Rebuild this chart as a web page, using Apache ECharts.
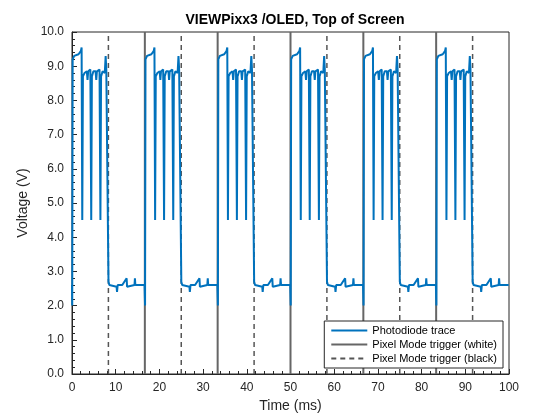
<!DOCTYPE html><html><head><meta charset="utf-8"><script src="https://cdn.jsdelivr.net/npm/echarts@6/dist/echarts.min.js"></script></head><body style="margin:0"><div id="c" style="width:560px;height:420px"></div><script>
var periodMs = 100/6;
// one period of the photodiode trace: [offset ms, volts]
var tOff = [0,0.05,0.15,0.5,1.5,2.05,2.2,2.35,2.5,2.85,3.4,3.55,3.7,4.2,4.4,4.55,4.9,5.4,5.55,5.7,6.3,6.5,6.65,7.0,7.5,7.7,7.85,8.2,8.35,8.55,9.0,10.2,10.3,10.45,11.5,12.5,12.6,12.7,14.3,14.4,14.5,16.6];
var vOff = [2.6,2.0,9.2,9.3,9.35,9.45,9.55,4.5,8.7,8.8,8.85,8.6,8.85,8.9,4.5,8.7,8.85,8.85,8.6,8.85,8.9,4.5,8.7,8.85,8.8,9.3,8.9,8.9,2.7,2.6,2.6,2.55,2.4,2.6,2.6,2.8,2.55,2.6,2.6,2.8,2.6,2.6];
var whiteTrig = [16.67,33.33,50,66.67,83.33];
var blackTrig = [8.33,25,41.67,58.33,75,91.67];
var trace = [];
for (var k=0;k<6;k++) for (var i=0;i<tOff.length;i++) trace.push([k*periodMs+tOff[i], vOff[i]]);
trace.push([100,2.6]);
function vlines(a){var d=[];a.forEach(function(t){d.push([t,0],[t,10],['-','-']);});return d;}
var c = echarts.init(document.getElementById('c'));
var ax = {axisLine:{show:true,onZero:false,lineStyle:{color:'#262626'}},axisTick:{inside:true,length:5,lineStyle:{color:'#262626'}},minorTick:{show:true,splitNumber:5,length:3,lineStyle:{color:'#262626'}},axisLabel:{color:'#262626',fontSize:12,fontFamily:'Liberation Sans'},splitLine:{show:false},nameTextStyle:{color:'#262626',fontSize:14,fontFamily:'Liberation Sans'}};
c.setOption({animation:false,
title:{text:'VIEWPixx3 /OLED, Top of Screen',left:290,top:8,textAlign:'center',textStyle:{fontSize:14,fontWeight:'bold',color:'#000',fontFamily:'Liberation Sans'}},
grid:{left:72,right:51,top:32,bottom:46,show:true,borderColor:'#262626',borderWidth:1},
legend:{right:57,bottom:52,orient:'vertical',backgroundColor:'#fff',borderColor:'#262626',borderWidth:1,padding:[4,6],itemGap:3,itemWidth:36,itemHeight:10,itemStyle:{opacity:0},textStyle:{fontSize:11,fontFamily:'Liberation Sans',color:'#000'},
data:['Photodiode trace','Pixel Mode trigger (white)','Pixel Mode trigger (black)']},
xAxis:Object.assign({},ax,{type:'value',min:0,max:100,interval:10,name:'Time (ms)',nameLocation:'middle',nameGap:24,position:'bottom'}),
yAxis:Object.assign({},ax,{type:'value',min:0,max:10,interval:1,name:'Voltage (V)',nameLocation:'middle',nameGap:40,axisLabel:Object.assign({},ax.axisLabel,{formatter:function(v){return v.toFixed(1);}})}),
series:[
{name:'Photodiode trace',type:'line',symbol:'none',data:trace,lineStyle:{color:'#0072BD',width:2},itemStyle:{color:'#0072BD'},z:3},
{name:'Pixel Mode trigger (white)',type:'line',symbol:'none',data:vlines(whiteTrig),lineStyle:{color:'#666',width:2},itemStyle:{color:'#666'},z:1},
{name:'Pixel Mode trigger (black)',type:'line',symbol:'none',data:vlines(blackTrig),lineStyle:{color:'#555',width:1.5,type:[5,4]},itemStyle:{color:'#555'},z:1}
]});
</script></body></html>
